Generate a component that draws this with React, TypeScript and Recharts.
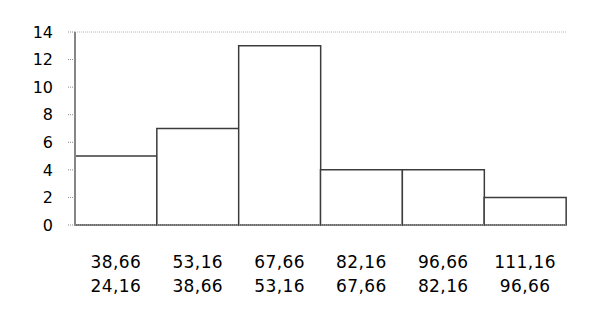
import { BarChart, Bar, XAxis, YAxis, ReferenceLine } from 'recharts';

const upperBounds = ['38,66', '53,16', '67,66', '82,16', '96,66', '111,16'];
const lowerBounds = ['24,16', '38,66', '53,16', '67,66', '82,16', '96,66'];
const counts = [5, 7, 13, 4, 4, 2];
const yTicks = [0, 2, 4, 6, 8, 10, 12, 14];
const edgeTicks = [0, 1, 2, 3, 4, 5, 6];

const data = counts.map((count, i) => ({
    name: upperBounds[i],
    upper: upperBounds[i],
    lower: lowerBounds[i],
    count,
}));

const font = '"DejaVu Sans", Verdana, sans-serif';

const BinTick = (props: any) => {
    const { x, y, payload, index } = props;
    const row = data[index] || data.find((d) => d.name === payload.value);
    return (
        <g>
            <text x={x} y={y + 35} textAnchor="middle" fontSize={17} letterSpacing={0.4} fontFamily={font} fill="#000">
                {row ? row.upper : payload.value}
            </text>
            <text x={x} y={y + 59} textAnchor="middle" fontSize={17} letterSpacing={0.4} fontFamily={font} fill="#000">
                {row ? row.lower : ''}
            </text>
        </g>
    );
};

const App = () => (
    <BarChart
        width={584}
        height={318}
        data={data}
        barCategoryGap={0}
        margin={{ top: 24, right: 26, bottom: 41, left: 7 }}
    >
        <ReferenceLine y={14} stroke="#b4b4b4" strokeDasharray="1 1" />
        <ReferenceLine xAxisId="edges" x={6} stroke="#dcdcdc" strokeWidth={1.5} />
        <XAxis
            dataKey="name"
            axisLine={{ stroke: '#8c8c8c', strokeDasharray: '1 1', strokeWidth: 2 }}
            tickLine={false}
            interval={0}
            height={60}
            tick={<BinTick />}
        />
        <XAxis
            xAxisId="edges"
            type="number"
            domain={[0, 6]}
            ticks={edgeTicks}
            axisLine={false}
            tickSize={4}
            tickLine={{ stroke: '#8c8c8c', strokeDasharray: '1 1' }}
            tickFormatter={() => ''}
            height={0}
        />
        <YAxis
            domain={[0, 14]}
            ticks={yTicks}
            width={60}
            axisLine={{ stroke: '#868686', strokeWidth: 2 }}
            tickSize={7}
            tickMargin={15}
            tickLine={{ stroke: '#8c8c8c', strokeDasharray: '1 1' }}
            tick={{ fontSize: 16, fontFamily: font, fill: '#000' }}
            interval={0}
        />
        <Bar dataKey="count" fill="#fff" stroke="#3c3c3c" strokeWidth={1.5} isAnimationActive={false} />
    </BarChart>
);

export default App;
